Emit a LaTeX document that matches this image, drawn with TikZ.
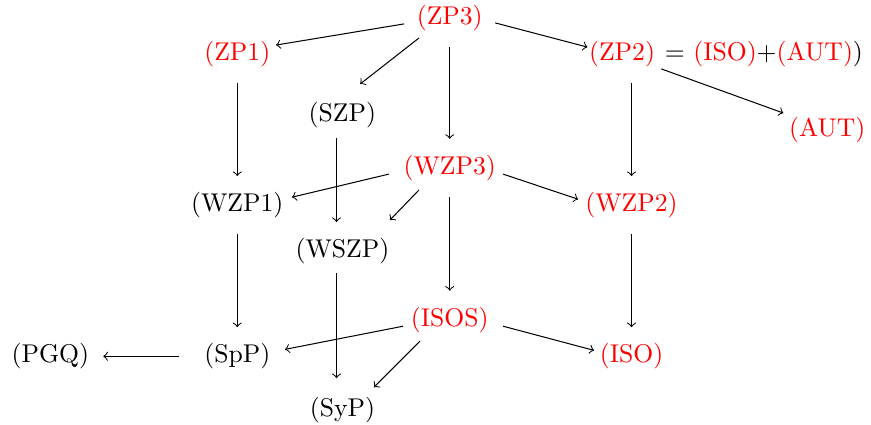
\documentclass[tikz,border=0pt]{standalone}
\usepackage{amsmath}
\usepackage{amssymb}
\usepackage{tikz}

\begin{document}
\begin{tikzpicture}[every node/.style={inner xsep=2pt,inner ysep=3.33pt,outer sep=3pt},
  hl/.style={text=red}]
      \useasboundingbox (0,0) rectangle (11.93,-5.82);
      % top face
      \node[hl] (zp3) at (6.16,-0.25) {(ZP3)};
      \node[hl] (zp1) at (3.25,-0.74) {(ZP1)};
      \node[hl] (zp2) at (8.52,-0.74) {(ZP2)};
      \node[anchor=base west,inner sep=0pt,outer sep=0pt] (zp2eq) at ([xshift=-1.2pt]zp2.base east) {= \textcolor{red}{(ISO)}+\textcolor{red}{(AUT)})};
      \node (szp) at (4.69,-1.58) {(SZP)};
      \node[hl] (aut) at (11.33,-1.78) {(AUT)};
      % middle face
      \node[hl] (wzp3) at (6.16,-2.30) {(WZP3)};
      \node (wzp1) at (3.25,-2.81) {(WZP1)};
      \node[hl] (wzp2) at (8.65,-2.81) {(WZP2)};
      \node (wszp) at (4.69,-3.44) {(WSZP)};
      % bottom face
      \node[hl] (isos) at (6.16,-4.38) {(ISOS)};
      \node (spp) at (3.25,-4.88) {(SpP)};
      \node[hl] (iso) at (8.65,-4.88) {(ISO)};
      \node (pgq) at (0.69,-4.88) {(PGQ)};
      \node (syp) at (4.69,-5.62) {(SyP)};
      % arrows from the top
      \draw[->] ([shift={(-17.8pt,-2.2pt)}]zp3.center) -- ([shift={(15.1pt,3.5pt)}]zp1.center);
      \draw[->] ([shift={(-12pt,-7.7pt)}]zp3.center) -- ([shift={(6.9pt,12.2pt)}]szp.center);
      \draw[->] (zp3) -- (wzp3);
      \draw[->] ([shift={(17.7pt,-1.8pt)}]zp3.center) -- ([shift={(-13.5pt,2.7pt)}]zp2.center);
      \draw[->] ([shift={(15.3pt,-5.8pt)}]zp2.center) -- ([shift={(-17.1pt,6.6pt)}]aut.center);
      \draw[->] (zp1) -- (wzp1);
      \draw[->] ([shift={(-2.3pt,2.7pt)}]szp.south) -- ([xshift=-2.3pt]wszp.north);
      \draw[->] (wzp2 |- zp2.south) -- (wzp2);
      % arrows from the middle
      \draw[->] ([shift={(-23.7pt,-2.4pt)}]wzp3.center) -- ([shift={(21.3pt,3.1pt)}]wzp1.center);
      \draw[->] ([shift={(-12pt,-8.6pt)}]wzp3.center) -- ([shift={(18.5pt,12.1pt)}]wszp.center);
      \draw[->] (wzp3) -- (isos);
      \draw[->] ([shift={(20.8pt,-2.4pt)}]wzp3.center) -- ([shift={(-20.8pt,2.3pt)}]wzp2.center);
      \draw[->] (wzp1) -- (spp);
      \draw[->] ([shift={(-2.3pt,2.7pt)}]wszp.south) -- ([shift={(-2.3pt,1.2pt)}]syp.north);
      \draw[->] (wzp2) -- (iso);
      % arrows from the bottom
      \draw[->] ([shift={(-18.2pt,-2.5pt)}]isos.center) -- ([shift={(18.6pt,2.7pt)}]spp.center);
      \draw[->] ([shift={(-11.6pt,-8.3pt)}]isos.center) -- ([shift={(12.3pt,9pt)}]syp.center);
      \draw[->] ([shift={(20.8pt,-2.5pt)}]isos.center) -- ([shift={(-14.6pt,2.3pt)}]iso.center);
      \draw[->,shorten <=5pt,shorten >=0.5pt] (spp) -- (pgq);
\end{tikzpicture}
\end{document}
